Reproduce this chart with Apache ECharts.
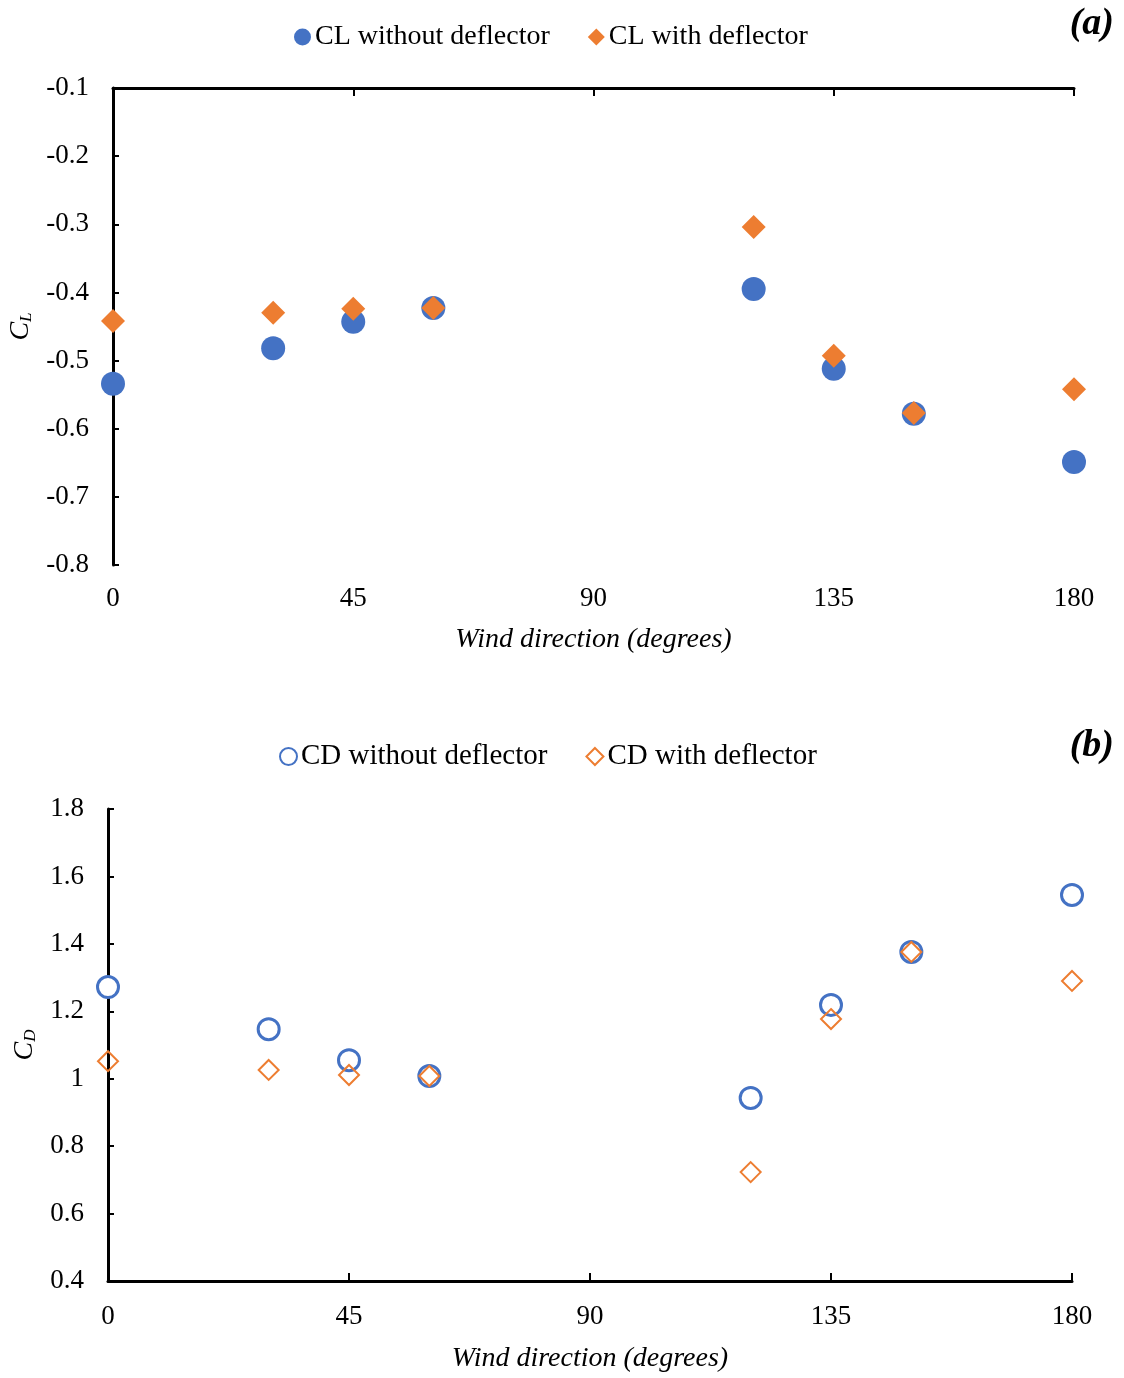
<!DOCTYPE html>
<html><head><meta charset="utf-8">
<script src="https://cdn.jsdelivr.net/npm/echarts@6/dist/echarts.min.js"></script>
<style>html,body{margin:0;padding:0;background:#fff}#c{width:1124px;height:1378px}</style>
</head><body><div id="c"></div>
<script>
const windDirections = [0, 30, 45, 60, 120, 135, 150, 180];
const clWithout = [-0.534, -0.482, -0.443, -0.423, -0.395, -0.512, -0.578, -0.649];
const clWith    = [-0.442, -0.430, -0.424, -0.423, -0.304, -0.493, -0.577, -0.542];
const cdWithout = [1.272, 1.147, 1.055, 1.008, 0.943, 1.219, 1.376, 1.545];
const cdWith    = [1.052, 1.026, 1.011, 1.008, 0.723, 1.177, 1.376, 1.290];
const xTicks = [0, 45, 90, 135, 180];

const pairs = (ys) => windDirections.map((x, i) => [x, ys[i]]);
const FONT = "'Liberation Serif', 'Times New Roman', serif";
const BLUE = '#4472C4', ORANGE = '#ED7D31';
const lbl = {fontFamily: FONT, fontSize: 27, color: '#000'};

const chart = echarts.init(document.getElementById('c'));
chart.setOption({
  animation: false,
  backgroundColor: '#fff',
  textStyle: {fontFamily: FONT},
  title: [
    {text: '(a)', right: 5, top: 0, textStyle: {fontFamily: FONT, fontSize: 38, fontWeight: 'bold', fontStyle: 'italic', color: '#000'}},
    {text: '(b)', right: 5, top: 722, textStyle: {fontFamily: FONT, fontSize: 38, fontWeight: 'bold', fontStyle: 'italic', color: '#000'}}
  ],
  legend: [
    {top: 18, left: 289, itemGap: 38, itemWidth: 17, itemHeight: 17,
     data: ['CL without deflector', 'CL with deflector'], textStyle: {fontFamily: FONT, fontSize: 28, color: '#000', padding: [0,0,0,-1]}},
    {top: 737, left: 274, itemGap: 38, itemWidth: 17, itemHeight: 17,
     data: ['CD without deflector', 'CD with deflector'], textStyle: {fontFamily: FONT, fontSize: 29, color: '#000', padding: [0,0,0,-1]}}
  ],
  grid: [
    {left: 113, right: 50, top: 88, height: 477, outerBoundsMode: 'none', containLabel: false},
    {left: 108, right: 52, top: 809, height: 472, outerBoundsMode: 'none', containLabel: false}
  ],
  xAxis: [
    {gridIndex: 0, type: 'value', min: 0, max: 180, interval: 45, position: 'bottom',
     axisLine: {show: false}, axisTick: {show: false}, splitLine: {show: false},
     axisLabel: Object.assign({margin: 20}, lbl),
     name: 'Wind direction (degrees)', nameLocation: 'middle', nameGap: 61,
     nameTextStyle: {fontFamily: FONT, fontSize: 28, fontStyle: 'italic', color: '#000'}},
    {gridIndex: 0, type: 'value', min: 0, max: 180, interval: 45, position: 'top',
     axisLine: {show: true, onZero: false, lineStyle: {color: '#000', width: 3}},
     axisTick: {show: true, inside: true, length: 8, lineStyle: {color: '#000', width: 2}},
     axisLabel: {show: false}, splitLine: {show: false}},
    {gridIndex: 1, type: 'value', min: 0, max: 180, interval: 45, position: 'bottom',
     axisLine: {show: true, onZero: false, lineStyle: {color: '#000', width: 3}},
     axisTick: {show: true, inside: true, length: 8, lineStyle: {color: '#000', width: 2}},
     splitLine: {show: false},
     axisLabel: Object.assign({margin: 22}, lbl),
     name: 'Wind direction (degrees)', nameLocation: 'middle', nameGap: 64,
     nameTextStyle: {fontFamily: FONT, fontSize: 28, fontStyle: 'italic', color: '#000'}}
  ],
  yAxis: [
    {gridIndex: 0, type: 'value', min: -0.8, max: -0.1, interval: 0.1,
     axisLine: {show: true, onZero: false, lineStyle: {color: '#000', width: 3}},
     axisTick: {show: true, inside: true, length: 6, lineStyle: {color: '#000', width: 2}},
     splitLine: {show: false},
     axisLabel: Object.assign({margin: 24, formatter: v => (Math.round(v*10)/10).toString()}, lbl),
     name: '{c|C}{s|L}', nameLocation: 'middle', nameGap: 73, nameRotate: 90,
     nameTextStyle: {rich: {c: {fontFamily: FONT, fontSize: 28, fontStyle: 'italic', color: '#000'},
                            s: {fontFamily: FONT, fontSize: 17, fontStyle: 'italic', color: '#000', padding: [12,0,0,0]}}}},
    {gridIndex: 1, type: 'value', min: 0.4, max: 1.8, interval: 0.2,
     axisLine: {show: true, onZero: false, lineStyle: {color: '#000', width: 3}},
     axisTick: {show: true, inside: true, length: 6, lineStyle: {color: '#000', width: 2}},
     splitLine: {show: false},
     axisLabel: Object.assign({margin: 24, formatter: v => (Math.round(v*10)/10).toString()}, lbl),
     name: '{c|C}{s|D}', nameLocation: 'middle', nameGap: 68, nameRotate: 90,
     nameTextStyle: {rich: {c: {fontFamily: FONT, fontSize: 28, fontStyle: 'italic', color: '#000'},
                            s: {fontFamily: FONT, fontSize: 17, fontStyle: 'italic', color: '#000', padding: [12,0,0,0]}}}}
  ],
  series: [
    {name: 'CL without deflector', type: 'scatter', xAxisIndex: 0, yAxisIndex: 0,
     symbol: 'circle', symbolSize: 24, itemStyle: {color: BLUE, opacity: 1}, data: pairs(clWithout)},
    {name: 'CL with deflector', type: 'scatter', xAxisIndex: 0, yAxisIndex: 0,
     symbol: 'diamond', symbolSize: 24, itemStyle: {color: ORANGE, opacity: 1}, data: pairs(clWith)},
    {name: 'CD without deflector', type: 'scatter', xAxisIndex: 2, yAxisIndex: 1,
     symbol: 'circle', symbolSize: 21, itemStyle: {color: '#fff', borderColor: BLUE, borderWidth: 3, opacity: 1}, data: pairs(cdWithout)},
    {name: 'CD with deflector', type: 'scatter', xAxisIndex: 2, yAxisIndex: 1,
     symbol: 'diamond', symbolSize: 20, itemStyle: {color: 'rgba(255,255,255,0)', borderColor: ORANGE, borderWidth: 2, opacity: 1}, data: pairs(cdWith)}
  ]
});
</script></body></html>
